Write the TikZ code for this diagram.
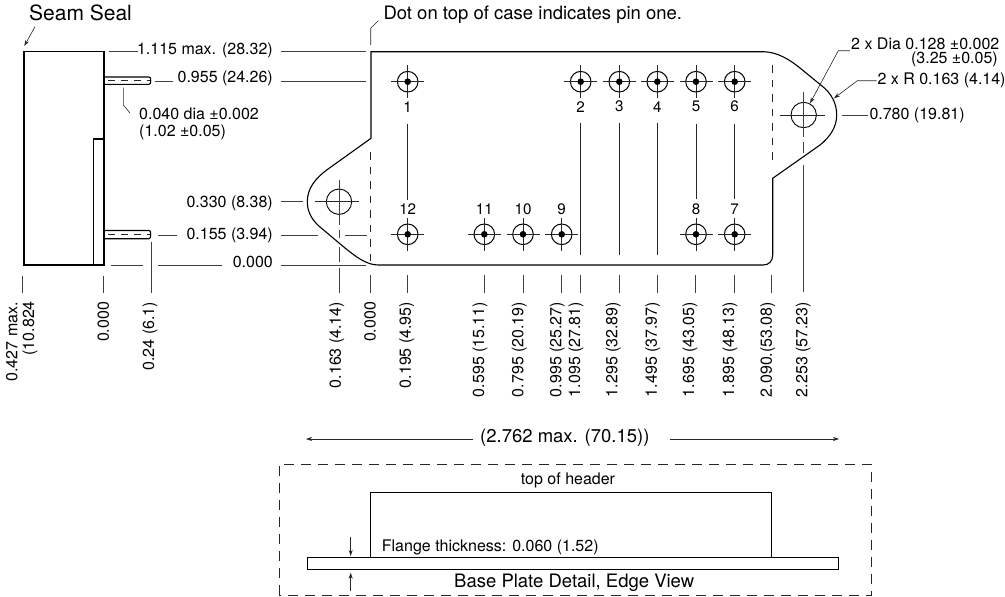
\documentclass[tikz,border=0pt]{standalone}
\usepackage{fontspec}
\setmainfont{TeX Gyre Heros}
\usetikzlibrary{calc,arrows.meta}
\tikzset{
  outline/.style={black,line width=1.1pt},
  leader/.style={black!75,line width=0.7pt},
  hair/.style={black!85,line width=0.6pt},
  tipline/.style={hair,-{Stealth[length=6pt,width=4pt]}},
  dim/.style={font=\fontsize{16}{18}\selectfont,inner sep=0pt,text=black},
  holedim/.style={dim,text height=9pt,text depth=1pt},
  bigdim/.style={font=\fontsize{18.5}{21}\selectfont,inner sep=0pt,text=black},
  pinno/.style={font=\fontsize{15.2}{17}\selectfont,inner sep=0pt,text=black},
  vdim/.style={dim,rotate=90,anchor=east},
  padring/.style={circle,draw=black,line width=1pt,minimum size=20.6pt,inner sep=0pt},
  gap/.style={dash pattern=on 7.5pt off 7pt},
  pingap/.style={dash pattern=on 6.5pt off 6.5pt},
  boxgap/.style={dash pattern=on 10pt off 7pt}
}
\newcommand{\padmark}[3]{
  \node[padring] (#1) at (#2,#3) {};
  \draw[hair] ($(#1.center)+(-16.5,0)$) -- ($(#1.center)+(16.5,0)$);
  \draw[hair] ($(#1.center)+(0,-16.5)$) -- ($(#1.center)+(0,16.5)$);
  \fill (#1.center) circle (3.3);
}
\begin{document}
\begin{tikzpicture}[x=1pt,y=-1pt]
\useasboundingbox (0,0) rectangle (1005,597);

% side view
\draw[outline] (23.7,51.7) rectangle (104,265);
\draw[black,line width=1.6pt] (23.7,51.7) -- (23.7,265);
\draw[outline] (93.3,139) rectangle (104.7,265);
\draw[outline] (104.7,77) -- (149,77) .. controls (150.5,77) and (150.7,78) .. (150.7,80.5) .. controls (150.7,83) and (150.5,84.3) .. (149,84.3) -- (104.7,84.3);
\draw[hair,pingap] (108,80.7) -- (150,80.7);
\draw[outline] (104.7,230.5) -- (149,230.5) .. controls (150.5,230.5) and (150.7,231.5) .. (150.7,234.5) .. controls (150.7,237) and (150.5,238.7) .. (149,238.7) -- (104.7,238.7);
\draw[hair,pingap] (108,234.7) -- (150,234.7);

\node[font=\fontsize{21}{24}\selectfont,inner sep=0pt,text=black,anchor=west] (seam) at (29,13.3) {Seam Seal};
\draw[tipline] (35,26.7) -- (24.3,46);

% horizontal dimensions, left of the case
\draw[leader] (109,51.7) -- (138,51.7);
\node[dim,anchor=east] (d1115) at (273,50.5) {1.115 max. (28.32)};
\draw[leader] (281,51.7) -- (366,51.7);
\draw[leader] (155,81) -- (172.7,81);
\node[dim,anchor=east] (d0955) at (273,78.5) {0.955 (24.26)};
\draw[leader] (281,81) -- (366,81);
\draw[hair] (123.3,87.5) -- (123.3,105) -- (130,113);
\node[dim,anchor=west] (pindia) at (139,114) {0.040 dia ±0.002};
\node[dim,anchor=west] (pindib) at (139,132) {(1.02 ±0.05)};
\node[dim,anchor=east] (d0330) at (273,203) {0.330 (8.38)};
\draw[leader] (281,201.7) -- (302.7,201.7);
\draw[leader] (157.7,235) -- (176.7,235);
\node[dim,anchor=east] (d0155) at (273,235) {0.155 (3.94)};
\draw[leader] (281,235) -- (318,235);
\draw[leader] (345,235) -- (367,235);
\draw[leader] (111,265) -- (142.7,265);
\draw[leader] (158.3,265) -- (221.7,265);
\node[dim,anchor=east] (dzero) at (273,262) {0.000};
\draw[leader] (281,265) -- (366,265);

% case outline
\draw[outline] (371,51.7) -- (763.3,51.7) .. controls (778,52) and (790,60) .. (800,68) -- (822,86)
  .. controls (831,93) and (836.7,103) .. (836.7,115) .. controls (836.7,127) and (830,137) .. (820,145)
  -- (772.7,178.3) -- (772.7,255) .. controls (772.7,261) and (769,265) .. (763.3,265)
  -- (378.3,265) .. controls (366,265) and (355,256) .. (345,248) -- (320,227)
  .. controls (312,220) and (307.3,212) .. (307.3,201.7) .. controls (307.3,188) and (316,178) .. (326.7,170)
  -- (371,138.3) -- cycle;
\node[bigdim,anchor=west] (dot) at (383.3,15) {Dot on top of case indicates pin one.};
\draw[hair] (370.7,45) -- (370.7,28.3) -- (378.3,20.7);
\draw[hair,gap] (370.5,152) -- (370.5,262);
\draw[hair,gap] (772,65) -- (772,163);

% mounting holes
\draw[black,line width=0.9pt] (339,201.7) circle (12.7);
\draw[hair] (315,201.7) -- (359.3,201.7);
\draw[leader] (339,180) -- (339,225);
\draw[leader] (339,230) -- (339,238);
\draw[leader] (339,246.7) -- (339,262);
\draw[leader] (339,268) -- (339,293);
\draw[black,line width=0.9pt] (803.7,115) circle (12.7);
\draw[hair] (780,115) -- (825,115);
\draw[leader] (803.7,91.7) -- (803.7,136.7);
\draw[leader] (803.7,141.7) -- (803.7,152.7);
\draw[leader] (803.7,165) -- (803.7,291.7);

% pins
\padmark{pa}{407.7}{81.7}
\padmark{pb}{580.7}{81.7}
\padmark{pc}{619.3}{81.7}
\padmark{pd}{657.3}{81.7}
\padmark{pe}{696}{81.7}
\padmark{pf}{734.7}{81.7}
\padmark{pg}{734.7}{234.3}
\padmark{ph}{696}{234.3}
\padmark{pi}{561.7}{234.3}
\padmark{pj}{523}{234.3}
\padmark{pk}{484.3}{234.3}
\padmark{pl}{407.7}{234.3}
\node[pinno] (na) at (407.7,106.7) {1};
\node[pinno] (nb) at (580.7,106.7) {2};
\node[pinno] (nc) at (619.3,106.7) {3};
\node[pinno] (nd) at (657.3,106.7) {4};
\node[pinno] (ne) at (696,106.7) {5};
\node[pinno] (nf) at (734.7,106.7) {6};
\node[pinno] (ng) at (734.7,209.5) {7};
\node[pinno] (nh) at (696,209.5) {8};
\node[pinno] (ni) at (561.7,209.5) {9};
\node[pinno] (nj) at (523,209.5) {10};
\node[pinno] (nk) at (484.3,209.5) {11};
\node[pinno] (nl) at (407.7,209.5) {12};
\draw[hair] (407.7,124.3) -- (407.7,200);
\draw[hair] (580.7,122.7) -- (580.7,255);
\draw[hair] (619.3,122.7) -- (619.3,255);
\draw[hair] (657.3,122.7) -- (657.3,255);
\draw[hair] (696,124.3) -- (696,199.3);
\draw[hair] (734.7,124.3) -- (734.7,199.3);

% right hand labels
\node[holedim,anchor=west] (holea) at (851,45) {2 x Dia 0.128 ±0.002};
\node[holedim,anchor=east] (holeb) at (998,59.3) {(3.25 ±0.05)};
\draw[tipline] (850,50.7) -- (838.3,50.7) -- (810,103.3);
\node[dim,anchor=west] (radius) at (877.3,80) {2 x R 0.163 (4.14)};
\draw[tipline] (876.7,80.7) -- (857.3,80.7) -- (834,98.3);
\draw[leader] (841.7,115) -- (868.3,115);
\node[dim,anchor=west] (d0780) at (869.3,115) {0.780 (19.81)};

% leaders under the case
\draw[leader] (22.7,276) -- (22.7,292.7);
\draw[leader] (103.7,276) -- (103.7,292.7);
\draw[leader] (151.3,241.7) -- (151.3,293);
\draw[leader] (370,275) -- (370,292.7);
\draw[leader] (407.3,275) -- (407.3,292.7);
\draw[leader] (484.3,275) -- (484.3,292.7);
\draw[leader] (523,275) -- (523,292.7);
\draw[leader] (561.3,275) -- (561.3,292.7);
\draw[leader] (580,275) -- (580,292.7);
\draw[leader] (619,275) -- (619,292.7);
\draw[leader] (657.3,275) -- (657.3,292.7);
\draw[leader] (695.7,275) -- (695.7,292.7);
\draw[leader] (734,275) -- (734,292.7);
\draw[leader] (771.3,275) -- (771.3,292.7);

\node[vdim] (va) at (11.7,302) {0.427 max.};
\node[vdim] (vb) at (30,301) {(10.824};
\node[vdim] (vc) at (103.3,301.7) {0.000};
\node[vdim] (vd) at (150,301.7) {0.24 (6.1)};
\node[vdim] (ve) at (336.7,301.7) {0.163 (4.14)};
\node[vdim] (vf) at (370,301.7) {0.000};
\node[vdim] (vg) at (406.7,301.7) {0.195 (4.95)};
\node[vdim] (vh) at (480,301.7) {0.595 (15.11)};
\node[vdim] (vi) at (519.3,301.7) {0.795 (20.19)};
\node[vdim] (vj) at (557.3,301.7) {0.995 (25.27)};
\node[vdim] (vk) at (576,301.7) {1.095 (27.81)};
\node[vdim] (vl) at (613.3,301.7) {1.295 (32.89)};
\node[vdim] (vm) at (652.7,301.7) {1.495 (37.97)};
\node[vdim] (vn) at (690,301.7) {1.695 (43.05)};
\node[vdim] (vo) at (730,301.7) {1.895 (48.13)};
\node[vdim] (vp) at (767.7,301.7) {2.090.(53.08)};
\node[vdim] (vq) at (803.3,301.7) {2.253 (57.23)};

% base plate detail
\node[bigdim,anchor=west] (width) at (480,437.5) {(2.762 max. (70.15))};
\draw[tipline] (472.7,439) -- (306,439);
\draw[tipline] (670,439) -- (839,439);
\draw[hair,boxgap] (279.3,595) -- (279.3,464) -- (871.7,464) -- (871.7,595) -- cycle;
\node[dim] (header) at (568,480) {top of header};
\draw[outline] (370.5,557.3) -- (370.5,492.3) -- (771.7,492.3) -- (771.7,557.3);
\draw[outline] (307.7,557.3) rectangle (838.7,569.3);
\node[dim,anchor=west] (flange) at (381.7,547.7) {Flange thickness: 0.060 (1.52)};
\node[bigdim,anchor=west] (edge) at (454,582.3) {Base Plate Detail, Edge View};
\draw[tipline] (350.7,536.7) -- (350.7,556);
\draw[tipline] (350.7,590.7) -- (350.7,572.7);

\end{tikzpicture}
\end{document}
